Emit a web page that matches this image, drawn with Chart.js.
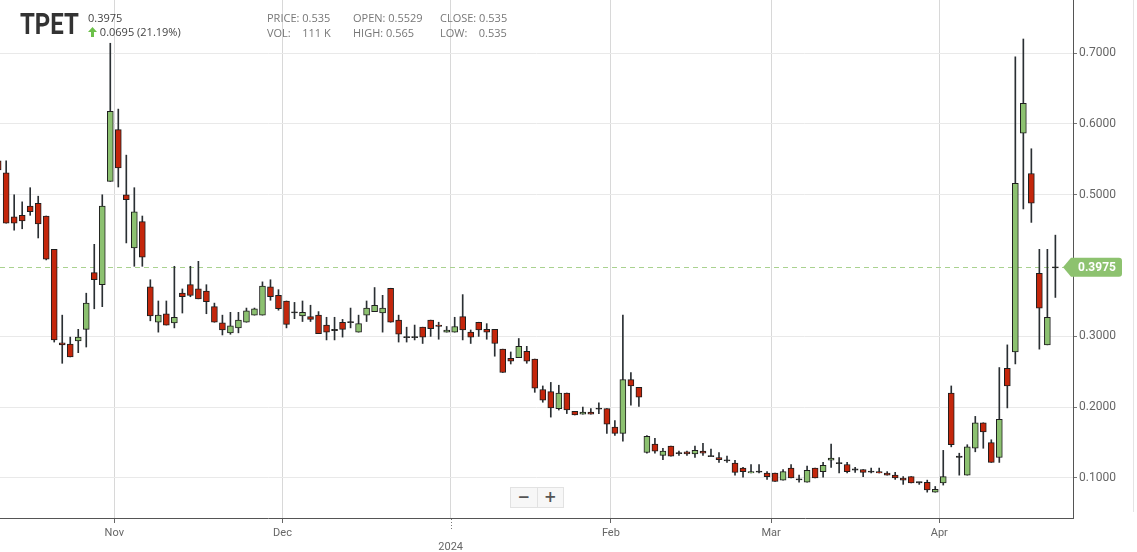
<!DOCTYPE html>
<html>
<head>
<meta charset="utf-8">
<script src="https://cdn.jsdelivr.net/npm/chart.js@4.4.1/dist/chart.umd.min.js"></script>
<style>
  body { margin: 0; background: #fff; }
  #wrap { position: relative; width: 1137px; height: 552px; font-family: "Open Sans", sans-serif; }
  #c { position: absolute; left: 0; top: 0; }
  .hd { position: absolute; font-size: 11px; color: #777; white-space: pre; line-height: 14px; }
  #sym { position: absolute; left: 20px; top: 6px; font: bold 30px Roboto, sans-serif; color: #333; transform: scaleX(0.8); transform-origin: left top; letter-spacing: 0px; }
  #zoom { position: absolute; left: 510px; top: 487px; width: 52px; height: 19px; border: 1px solid #e2e2e2; background: #f7f7f7; display: flex; }
  #zoom span { flex: 1; text-align: center; font: bold 15px/19px "DejaVu Sans", sans-serif; color: #555; }
  #zoom span:first-child { border-right: 1px solid #e2e2e2; }
  #edge { position: absolute; left: 1133px; top: 0; width: 1px; height: 512px; background: #e4e4e4; }
</style>
</head>
<body>
<div id="wrap">
  <canvas id="c" width="1137" height="552"></canvas>
  <div id="edge"></div>
  <div id="sym">TPET</div>
  <div class="hd" style="left:88px;top:11px;color:#444">0.3975</div>
  <div class="hd" style="left:88px;top:25px;color:#444"><svg width="9" height="10" viewBox="0 0 9 10" style="vertical-align:-1px"><path d="M4.5 0 L9 5 L6 5 L6 10 L3 10 L3 5 L0 5 Z" fill="#6cc04a"/></svg> 0.0695 (21.19%)</div>
  <div class="hd" style="left:267px;top:11px">PRICE: 0.535</div>
  <div class="hd" style="left:267px;top:26px">VOL:    111 K</div>
  <div class="hd" style="left:353px;top:11px">OPEN: 0.5529</div>
  <div class="hd" style="left:353px;top:26px">HIGH: 0.565</div>
  <div class="hd" style="left:440px;top:11px">CLOSE: 0.535</div>
  <div class="hd" style="left:440px;top:26px">LOW:    0.535</div>
  <div id="zoom"><span>−</span><span>+</span></div>
</div>
<script>
// daily candles, one per trading day (index 0 is the partly hidden late-Oct day)
const opens = [
  0.548, 0.531, 0.469, 0.471, 0.484, 0.488, 0.470, 0.423, 0.291, 0.289,
  0.2935, 0.310, 0.390, 0.373, 0.519, 0.592, 0.500, 0.425, 0.462, 0.370,
  0.320, 0.332, 0.319, 0.361, 0.373, 0.367, 0.364, 0.342, 0.319, 0.305,
  0.312, 0.320, 0.330, 0.330, 0.370, 0.358, 0.350, 0.334, 0.329, 0.328,
  0.330, 0.316, 0.309, 0.320, 0.320, 0.306, 0.330, 0.335, 0.333, 0.368,
  0.323, 0.299, 0.299, 0.313, 0.323, 0.316, 0.306, 0.306, 0.328, 0.306,
  0.320, 0.310, 0.310, 0.282, 0.269, 0.270, 0.279, 0.268, 0.225, 0.222,
  0.198, 0.220, 0.194, 0.190, 0.193, 0.198, 0.198, 0.172, 0.163, 0.239,
  0.228, 0.136, 0.148, 0.132, 0.145, 0.135, 0.137, 0.134, 0.138, 0.131,
  0.129, 0.125, 0.121, 0.114, 0.107, 0.109, 0.107, 0.107, 0.097, 0.114,
  0.098, 0.094, 0.114, 0.109, 0.125, 0.121, 0.119, 0.112, 0.112, 0.109,
  0.109, 0.107, 0.104, 0.100, 0.102, 0.094, 0.094, 0.080, 0.093, 0.220,
  0.130, 0.104, 0.142, 0.178, 0.150, 0.129, 0.255, 0.278, 0.587, 0.530,
  0.389, 0.288, 0.3975
];
const highs = [
  0.556, 0.548, 0.500, 0.490, 0.510, 0.498, 0.470, 0.423, 0.330, 0.299,
  0.310, 0.361, 0.430, 0.500, 0.714, 0.621, 0.556, 0.510, 0.470, 0.380,
  0.350, 0.350, 0.399, 0.367, 0.399, 0.406, 0.373, 0.347, 0.330, 0.334,
  0.334, 0.340, 0.340, 0.377, 0.380, 0.366, 0.350, 0.348, 0.350, 0.344,
  0.335, 0.327, 0.327, 0.324, 0.340, 0.330, 0.350, 0.369, 0.358, 0.368,
  0.330, 0.313, 0.316, 0.313, 0.323, 0.320, 0.314, 0.327, 0.359, 0.309,
  0.320, 0.318, 0.310, 0.282, 0.278, 0.297, 0.286, 0.268, 0.230, 0.235,
  0.231, 0.220, 0.194, 0.200, 0.198, 0.206, 0.198, 0.181, 0.330, 0.249,
  0.228, 0.160, 0.156, 0.142, 0.145, 0.138, 0.138, 0.145, 0.149, 0.141,
  0.136, 0.131, 0.125, 0.115, 0.119, 0.119, 0.109, 0.107, 0.112, 0.119,
  0.104, 0.117, 0.114, 0.122, 0.148, 0.129, 0.122, 0.115, 0.112, 0.114,
  0.114, 0.109, 0.108, 0.102, 0.102, 0.094, 0.097, 0.088, 0.139, 0.230,
  0.135, 0.147, 0.187, 0.178, 0.154, 0.256, 0.288, 0.695, 0.720, 0.565,
  0.423, 0.423, 0.443
];
const lows = [
  0.530, 0.460, 0.450, 0.452, 0.471, 0.439, 0.408, 0.292, 0.262, 0.271,
  0.277, 0.285, 0.339, 0.342, 0.519, 0.511, 0.432, 0.399, 0.399, 0.322,
  0.306, 0.316, 0.312, 0.333, 0.356, 0.353, 0.332, 0.320, 0.302, 0.303,
  0.305, 0.320, 0.330, 0.330, 0.351, 0.337, 0.312, 0.325, 0.321, 0.321,
  0.304, 0.295, 0.295, 0.299, 0.312, 0.306, 0.321, 0.335, 0.306, 0.320,
  0.292, 0.292, 0.295, 0.290, 0.300, 0.296, 0.306, 0.306, 0.295, 0.290,
  0.300, 0.296, 0.272, 0.249, 0.261, 0.270, 0.262, 0.221, 0.207, 0.186,
  0.196, 0.191, 0.189, 0.190, 0.190, 0.191, 0.163, 0.160, 0.152, 0.203,
  0.201, 0.135, 0.135, 0.126, 0.131, 0.132, 0.132, 0.129, 0.132, 0.131,
  0.122, 0.122, 0.104, 0.101, 0.107, 0.107, 0.098, 0.095, 0.097, 0.100,
  0.094, 0.094, 0.100, 0.101, 0.115, 0.107, 0.107, 0.108, 0.102, 0.107,
  0.107, 0.104, 0.098, 0.091, 0.093, 0.091, 0.080, 0.080, 0.090, 0.144,
  0.104, 0.104, 0.137, 0.142, 0.122, 0.122, 0.199, 0.261, 0.480, 0.461,
  0.282, 0.288, 0.355
];
const closes = [
  0.535, 0.460, 0.460, 0.463, 0.476, 0.459, 0.409, 0.295, 0.288, 0.271,
  0.299, 0.347, 0.380, 0.484, 0.618, 0.538, 0.493, 0.476, 0.412, 0.329,
  0.330, 0.316, 0.327, 0.356, 0.358, 0.353, 0.349, 0.320, 0.309, 0.315,
  0.323, 0.336, 0.339, 0.371, 0.356, 0.339, 0.317, 0.334, 0.334, 0.324,
  0.304, 0.306, 0.309, 0.310, 0.320, 0.318, 0.340, 0.344, 0.340, 0.320,
  0.303, 0.299, 0.299, 0.299, 0.311, 0.314, 0.309, 0.314, 0.309, 0.299,
  0.309, 0.306, 0.290, 0.249, 0.265, 0.286, 0.265, 0.227, 0.210, 0.199,
  0.220, 0.196, 0.189, 0.193, 0.190, 0.198, 0.176, 0.163, 0.239, 0.230,
  0.214, 0.159, 0.138, 0.138, 0.131, 0.135, 0.134, 0.139, 0.135, 0.131,
  0.126, 0.125, 0.108, 0.109, 0.109, 0.109, 0.102, 0.095, 0.109, 0.100,
  0.098, 0.111, 0.100, 0.118, 0.128, 0.121, 0.109, 0.112, 0.108, 0.109,
  0.107, 0.104, 0.100, 0.097, 0.093, 0.094, 0.083, 0.084, 0.102, 0.147,
  0.130, 0.144, 0.178, 0.165, 0.122, 0.183, 0.230, 0.516, 0.629, 0.488,
  0.340, 0.327, 0.3975
];

const lastPrice = 0.3975;
const monthBreaks = [14.5, 35.5, 56.5, 76.5, 96.5, 117.5];
const monthLabels = ['Nov', 'Dec', ['', '2024'], 'Feb', 'Mar', 'Apr'];
// 0.4 sits under the price tag, so it has no label or grid line
const priceTicks = [0.1, 0.2, 0.3, 0.5, 0.6, 0.7];

const GREEN = '#8cc170';
const RED = '#c4260b';
const idx = opens.map((o, i) => i);

const bodyData = idx.map(i => {
  const o = opens[i], c = closes[i];
  if (Math.abs(o - c) < 0.0015) return { x: i, y: [o - 0.0008, o + 0.0008] };
  return { x: i, y: [Math.min(o, c), Math.max(o, c)] };
});
const bodyColors = idx.map(i => {
  if (Math.abs(opens[i] - closes[i]) < 0.0015) return '#222';
  return closes[i] > opens[i] ? GREEN : RED;
});
const wickData = idx.map(i => ({ x: i, y: [lows[i], highs[i]] }));

const priceLine = {
  id: 'priceLine',
  beforeDatasetsDraw(chart) {
    const { ctx, chartArea } = chart;
    const y = Math.round(chart.scales.y.getPixelForValue(lastPrice)) + 0.5;
    ctx.save();
    ctx.strokeStyle = '#a9d28f';
    ctx.setLineDash([5, 4]);
    ctx.lineWidth = 1;
    ctx.beginPath();
    ctx.moveTo(chartArea.left, y);
    ctx.lineTo(chartArea.right, y);
    ctx.stroke();
    ctx.restore();
  },
  afterDraw(chart) {
    const { ctx, scales } = chart;
    const y = scales.y.getPixelForValue(lastPrice);
    const xa = chart.scales.x;
    ctx.save();
    // dotted year tick under Jan
    const jx = Math.round(xa.getPixelForValue(monthBreaks[2])) + 0.5;
    ctx.strokeStyle = '#777';
    ctx.setLineDash([1, 2]);
    ctx.beginPath();
    ctx.moveTo(jx, xa.top + 1);
    ctx.lineTo(jx, xa.top + 11);
    ctx.stroke();
    ctx.setLineDash([]);
    // price tag
    ctx.fillStyle = '#8dc26f';
    ctx.beginPath();
    ctx.moveTo(1063, y);
    ctx.lineTo(1071, y - 9.5);
    ctx.lineTo(1119, y - 9.5);
    ctx.quadraticCurveTo(1122, y - 9.5, 1122, y - 6.5);
    ctx.lineTo(1122, y + 6.5);
    ctx.quadraticCurveTo(1122, y + 9.5, 1119, y + 9.5);
    ctx.lineTo(1071, y + 9.5);
    ctx.closePath();
    ctx.fill();
    ctx.fillStyle = '#fff';
    ctx.font = 'bold 12px Roboto';
    ctx.textBaseline = 'middle';
    ctx.fillText(lastPrice.toFixed(4), 1078, y + 0.5);
    ctx.restore();
  }
};

new Chart(document.getElementById('c'), {
  type: 'bar',
  data: {
    datasets: [{
      label: 'body',
      data: bodyData,
      backgroundColor: bodyColors,
      borderColor: '#1e1e1e',
      borderWidth: 1,
      borderSkipped: false,
      barThickness: 6,
      grouped: false
    }, {
      label: 'wick',
      data: wickData,
      backgroundColor: '#2a2f33',
      borderWidth: 0,
      barThickness: 1,
      grouped: false
    }]
  },
  options: {
    responsive: false,
    animation: false,
    devicePixelRatio: 1,
    layout: { padding: 0 },
    plugins: { legend: { display: false }, tooltip: { enabled: false } },
    scales: {
      x: {
        type: 'linear',
        bounds: 'data',
        min: 0.23,
        max: 134.2,
        offset: false,
        afterBuildTicks: s => { s.ticks = monthBreaks.map(v => ({ value: v })); },
        afterFit: s => { s.height = 34; s.paddingLeft = 0; s.paddingRight = 0; },
        ticks: {
          autoSkip: false, maxRotation: 0, padding: 4, color: '#666',
          font: { family: 'Roboto', size: 11 },
          callback: (v, i) => monthLabels[i]
        },
        grid: {
          offset: false, color: '#d8d8d8', tickLength: 5,
          tickColor: c => c.index === 2 ? 'rgba(0,0,0,0)' : '#666'
        },
        border: { color: '#555' }
      },
      y: {
        type: 'linear',
        position: 'right',
        bounds: 'data',
        beginAtZero: false,
        min: 0.0435,
        max: 0.7751,
        afterBuildTicks: s => { s.ticks = priceTicks.map(v => ({ value: v })); },
        afterFit: s => { s.width = 64; s.paddingTop = 0; s.paddingBottom = 0; },
        ticks: {
          padding: 2, color: '#666',
          font: { family: 'Roboto', size: 12 },
          callback: v => v.toFixed(4)
        },
        grid: { color: '#e9e9e9', tickLength: 4, tickColor: '#777' },
        border: { color: '#555' }
      }
    }
  },
  plugins: [priceLine]
});
</script>
</body>
</html>
